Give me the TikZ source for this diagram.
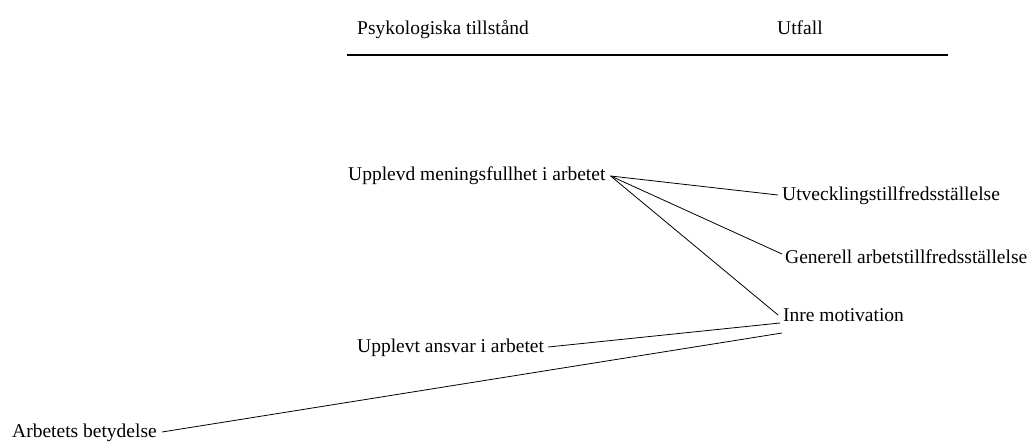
\documentclass[tikz,border=0pt]{standalone}
\usepackage{fontspec}
\setmainfont{Liberation Serif}
\begin{document}
\begin{tikzpicture}[x=1pt,y=-1pt,
  lbl/.style={font=\fontsize{19.5}{22}\selectfont, inner sep=0pt, anchor=base west},
  conn/.style={draw=black, line width=0.8pt},
  rule/.style={draw=black, line width=1.2pt}]
\useasboundingbox (0,0) rectangle (1027,442);
% column headings and rule
\node[lbl] (psy) at (357,34) {Psykologiska tillstånd};
\node[lbl] (utf) at (777,34) {Utfall};
\coordinate (hl) at (347,55);
\coordinate (hr) at (948,55);
\draw[rule] (hl) -- (hr);
% psychological states
\node[lbl] (mening) at (348,180) {Upplevd meningsfullhet i arbetet};
\node[lbl] (ansvar) at (357,352) {Upplevt ansvar i arbetet};
\node[lbl] (betyd) at (12,437) {Arbetets betydelse};
% outcomes
\node[lbl] (utv) at (782,200) {Utvecklingstillfredsställelse};
\node[lbl] (gen) at (785,263) {Generell arbetstillfredsställelse};
\node[lbl] (inre) at (783,321) {Inre motivation};
% connectors
\coordinate (m0) at ([xshift=5pt,yshift=4pt]mening.base east);
\draw[conn] (m0) -- ([xshift=-4pt,yshift=5pt]utv.base west);
\draw[conn] (m0) -- ([xshift=-3pt,yshift=9pt]gen.base west);
\draw[conn] (m0) -- ([xshift=-5pt,yshift=6pt]inre.base west);
\draw[conn] ([xshift=4pt,yshift=5pt]ansvar.base east) -- ([xshift=-3pt,yshift=-2pt]inre.base west);
\draw[conn] ([xshift=5pt,yshift=5pt]betyd.base east) -- ([xshift=-1pt,yshift=-12pt]inre.base west);
\end{tikzpicture}
\end{document}
